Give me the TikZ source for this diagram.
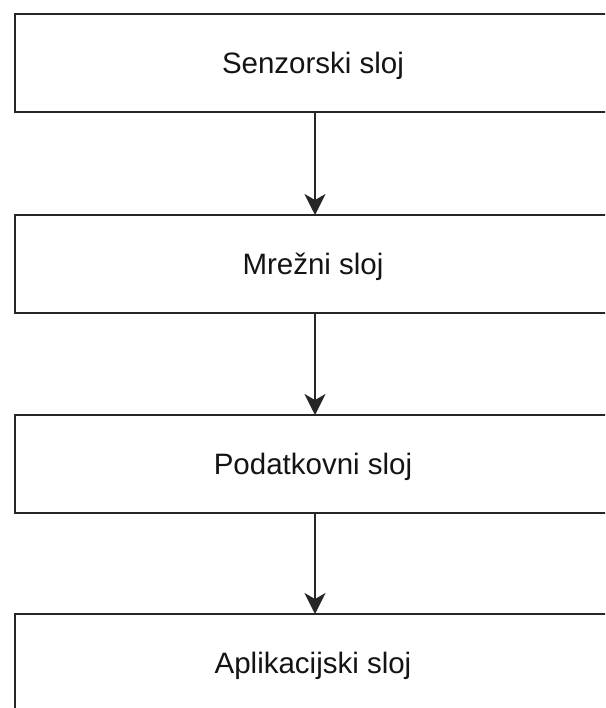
\documentclass[tikz,border=0pt]{standalone}
\usepackage{fontspec}
\setmainfont{Liberation Sans}
\usetikzlibrary{arrows.meta}
\begin{document}
\begin{tikzpicture}[x=1pt,y=-1pt,
  layer/.style={draw=black!85, line width=2pt, fill=white, rectangle,
    minimum width=596pt, minimum height=98pt, inner sep=0pt,
    font=\fontsize{29.5}{35}\selectfont, text=black!92,
    text height=21pt, text depth=0pt},
  arr/.style={draw=black!85, line width=2pt,
    -{Stealth[length=21pt,width=21pt,inset=6pt]}, shorten >=-1pt}]
\useasboundingbox (0,0) rectangle (605,708);
\clip (0,0) rectangle (605,708);
\node[layer] (s1) at (313,63) {Senzorski sloj};
\node[layer] (s2) at (313,264) {Mrežni sloj};
\node[layer] (s3) at (313,464) {Podatkovni sloj};
\node[layer] (s4) at (313,663) {Aplikacijski sloj};
\draw[arr] ([xshift=2pt]s1.south) -- ([xshift=2pt]s2.north);
\draw[arr] ([xshift=2pt]s2.south) -- ([xshift=2pt]s3.north);
\draw[arr] ([xshift=2pt]s3.south) -- ([xshift=2pt]s4.north);
\end{tikzpicture}
\end{document}
